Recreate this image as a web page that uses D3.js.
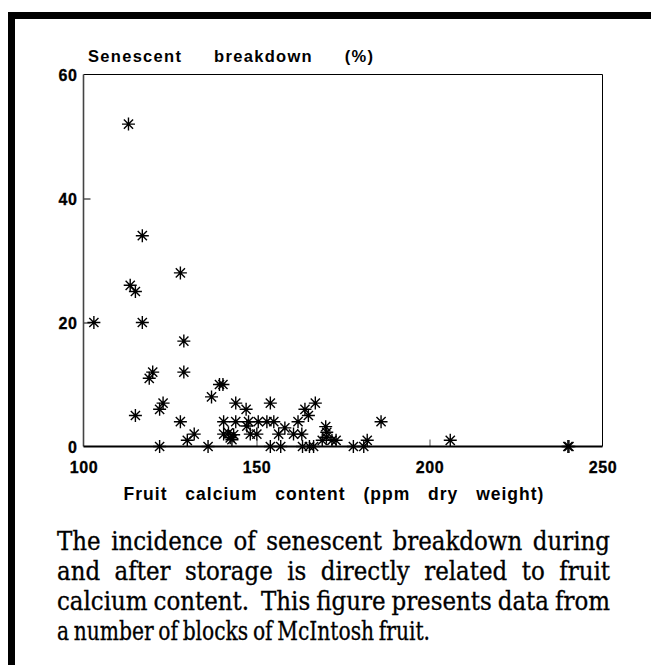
<!DOCTYPE html>
<html>
<head>
<meta charset="utf-8">
<script src="https://cdn.jsdelivr.net/npm/d3@7"></script>
<style>
  body { margin: 0; background: #fff; }
  svg { display: block; }
  .tick text { font-family: "Liberation Sans", Arial, sans-serif; font-weight: bold; font-size: 16px; letter-spacing: 0.6px; fill: #000; stroke: #000; stroke-width: 0.3px; }
</style>
</head>
<body>
<svg width="651" height="665"></svg>
<script>
// fruit calcium (ppm dry weight) vs senescent breakdown (%)
const calcium = [103, 113, 117, 128, 113.5, 115, 117, 129, 129, 119, 120, 115, 122, 123, 122,
  128, 130, 132, 136, 137, 139.3, 140.3, 144, 147, 140.5, 144, 147.7, 150.5, 153, 155,
  140.5, 141.9, 142.4, 142.9, 143.4, 147.2, 148.2, 150.1, 154, 156.4, 158.2, 162, 160.7, 163.1,
  154, 157, 163.3, 165.3, 164, 165, 167, 166.5, 170, 170.3, 170.2, 169, 171.8, 173,
  178, 181, 182, 186, 206, 240, 240.3];
const breakdown = [20, 52, 34, 28, 26, 25, 20, 17, 12, 11, 12, 5, 6, 7, 0,
  4, 1, 2, 0, 8, 10, 10, 7, 6, 4, 4, 4, 4, 4, 4,
  2, 2.2, 1.4, 1.1, 1.9, 3.3, 2, 2, 7, 2, 3, 4, 2, 2,
  0, 0, 0, 0, 6, 5, 7, 0, 3.2, 2.3, 1.5, 1, 1, 1,
  0, 0, 1, 4, 1, 0, 0];
const xTicks = [100, 150, 200, 250];
const yTicks = [0, 20, 40, 60];
const caption = [
  "The incidence of senescent breakdown during",
  "and after storage is directly related to fruit",
  "calcium content.  This figure presents data from",
  "a number of blocks of McIntosh fruit."
];

let svg = d3.select("svg");

// page frame (top and left bars)
svg.append("rect").attr("x", 8).attr("y", 12).attr("width", 643).attr("height", 7).attr("fill", "#000");
svg.append("rect").attr("x", 8).attr("y", 12).attr("width", 7).attr("height", 653).attr("fill", "#000");

let x = d3.scaleLinear().domain([100, 250]).range([83.5, 602.5]);
let y = d3.scaleLinear().domain([0, 60]).range([446.5, 74.5]);

// y axis labels + inward ticks
let ya = svg.append("g")
    .attr("transform", "translate(" + x(100) + ",0)")
    .call(d3.axisLeft(y).tickValues(yTicks).tickSize(-7).tickPadding(6));
ya.select(".domain").remove();
ya.selectAll(".tick line").attr("stroke", "#000").attr("stroke-width", 1)
  .attr("display", d => (d === 0 || d === 60) ? "none" : null);
ya.selectAll(".tick text").attr("dy", "0.36em");

let xa = svg.append("g")
    .attr("transform", "translate(0," + y(0) + ")")
    .call(d3.axisBottom(x).tickValues(xTicks).tickSize(-7).tickPadding(15));
xa.select(".domain").remove();
xa.selectAll(".tick line").attr("stroke", "#555").attr("stroke-width", 1)
  .attr("display", d => (d === 100 || d === 250) ? "none" : null);

// box
svg.append("line").attr("x1", x(100)).attr("x2", x(250)).attr("y1", y(60)).attr("y2", y(60))
  .attr("stroke", "#000").attr("stroke-width", 1);
svg.append("line").attr("x1", x(250)).attr("x2", x(250)).attr("y1", y(60)).attr("y2", y(0))
  .attr("stroke", "#000").attr("stroke-width", 1);
svg.append("line").attr("x1", x(100)).attr("x2", x(100)).attr("y1", y(60)).attr("y2", y(0))
  .attr("stroke", "#444").attr("stroke-width", 1.6);
svg.append("line").attr("x1", x(100)).attr("x2", x(250)).attr("y1", y(0)).attr("y2", y(0))
  .attr("stroke", "#000").attr("stroke-width", 2);

// asterisk markers, 8 arms
function star(r) {
  let p = d3.path();
  for (let i = 0; i < 4; i++) {
    let a = i * Math.PI / 4;
    p.moveTo(-r * Math.cos(a), -r * Math.sin(a));
    p.lineTo(r * Math.cos(a), r * Math.sin(a));
  }
  return p.toString();
}
let pts = calcium.map((c, i) => ({ c: c, b: breakdown[i] }));
svg.append("g").selectAll("path")
  .data(pts)
  .enter().append("path")
    .attr("transform", d => "translate(" + x(d.c) + "," + y(d.b) + ")")
    .attr("d", star(6.5))
    .attr("fill", "none")
    .attr("stroke", "#000")
    .attr("stroke-width", 1.4);

// titles
svg.append("text")
  .attr("x", 88).attr("y", 62)
  .attr("font-family", "Liberation Sans, Arial, sans-serif")
  .attr("font-weight", "bold").attr("font-size", 16.5)
  .attr("letter-spacing", 1.3)
  .attr("word-spacing", 26)
  .text("Senescent breakdown (%)");

svg.append("text")
  .attr("x", 334).attr("y", 500)
  .attr("text-anchor", "middle")
  .attr("font-family", "Liberation Sans, Arial, sans-serif")
  .attr("font-weight", "bold").attr("font-size", 17.5)
  .attr("letter-spacing", 1)
  .attr("word-spacing", 12)
  .text("Fruit calcium content (ppm dry weight)");

// caption: condensed serif, first three lines justified by word spacing
let cap = svg.append("g").selectAll("text")
  .data(caption)
  .enter().append("text")
    .attr("x", 57)
    .attr("y", (d, i) => 550 + i * 30)
    .attr("font-family", "DejaVu Serif Condensed, DejaVu Serif, serif")
    .attr("font-stretch", "condensed")
    .attr("font-size", 25.5)
    .attr("xml:space", "preserve")
    .attr("fill", "#000")
    .attr("stroke", "#000")
    .attr("stroke-width", 0.3)
    .text(d => d);

cap.each(function(d, i) {
  let t = d3.select(this);
  let want = i < 3 ? 553 : 373;
  let gaps = d.split(" ").length - 1;
  if (i === 3) t.attr("word-spacing", -2);
  let len = this.getComputedTextLength();
  if (i < 3) {
    let ws = (want - len) / gaps;
    if (ws < -4) {
      t.attr("word-spacing", -4).attr("textLength", want).attr("lengthAdjust", "spacingAndGlyphs");
    } else {
      t.attr("word-spacing", ws);
    }
  } else if (Math.abs(len - want) > 4) {
    t.attr("textLength", want).attr("lengthAdjust", "spacingAndGlyphs");
  }
});
</script>
</body>
</html>
